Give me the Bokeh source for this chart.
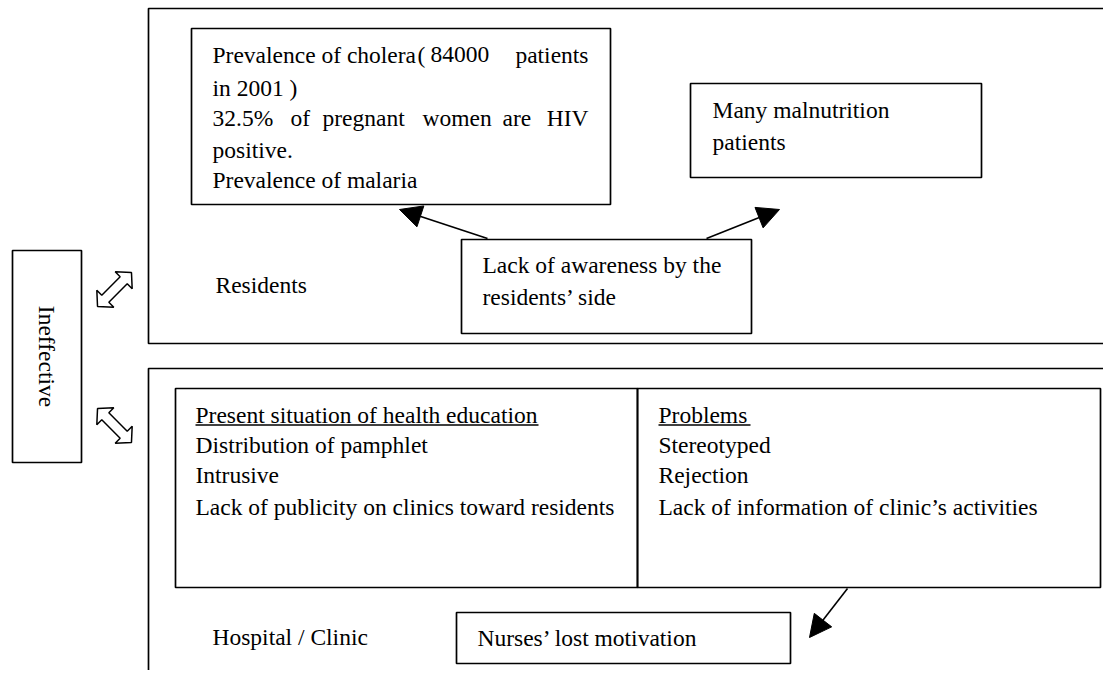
import math
from bokeh.plotting import figure
from bokeh.models import Range1d, Arrow, NormalHead
from bokeh.core.properties import value
from bokeh.embed import file_html
from bokeh.resources import INLINE

FONT = value("Liberation Serif")
FS = "23.5px"

# ---- content ----
residents_label = "Residents"
hospital_label = "Hospital / Clinic"
ineffective_label = "Ineffective"
disease_line1 = ["Prevalence of cholera", "(", "84000", "patients"]
disease_line2 = "in 2001 )"
disease_line3 = ["32.5%", "of", "pregnant", "women", "are", "HIV"]
disease_line4 = "positive."
disease_line5 = "Prevalence of malaria"
malnutrition_lines = ["Many malnutrition", "patients"]
awareness_lines = ["Lack of awareness by the", "residents’ side"]
situation_title = "Present situation of health education"
situation_items = ["Distribution of pamphlet", "Intrusive", "Lack of publicity on clinics toward residents"]
problems_title = "Problems"
problems_items = ["Stereotyped", "Rejection", "Lack of information of clinic’s activities"]
nurses_label = "Nurses’ lost motivation"

# ---- layout (screen pixel coordinates, y downward) ----
box_left   = [148, 191, 690, 461, 148, 175, 637, 456, 12]
box_top    = [8,   28,  83,  239, 368, 388, 388, 612, 250]
box_right  = [1130, 610, 981, 751, 1130, 637, 1100, 790, 81]
box_bottom = [343, 204, 177, 333, 700, 587, 587, 663, 462]

W, H = 1103, 670
p = figure(width=W, height=H, x_range=Range1d(0, W), y_range=Range1d(H, 0),
           output_backend="svg", toolbar_location=None, x_axis_type=None, y_axis_type=None,
           min_border=0, min_border_left=0, min_border_right=0, min_border_top=0, min_border_bottom=0)
p.grid.visible = False
p.outline_line_color = None
p.background_fill_color = "white"
p.border_fill_color = "white"

p.quad(left=box_left, right=box_right, top=box_top, bottom=box_bottom,
       fill_color=None, line_color="black", line_width=1.7)

def txt(x, y, s, align="left", angle=0.0, baseline="alphabetic"):
    p.text(x=[x], y=[y], text=[s], text_font=FONT, text_font_size=FS, text_color="black",
           text_align=align, text_baseline=baseline, angle=angle)

DY = -1  # rendered visual centre sits ~1px below the given y
# disease box
txt(212, 55 + DY, disease_line1[0])
txt(417, 55 + DY, disease_line1[1])
txt(430, 55 + DY, disease_line1[2])
txt(588, 55 + DY, disease_line1[3], align="right")
txt(212, 88 + DY, disease_line2)
line3_x = [212, 290, 322, 422, 502, 588]
for i, w in enumerate(disease_line3):
    txt(line3_x[i], 118 + DY, w, align="right" if i == len(disease_line3) - 1 else "left")
txt(212, 150 + DY, disease_line4)
txt(212, 180 + DY, disease_line5)

# malnutrition
for i, s in enumerate(malnutrition_lines):
    txt(712, 110 + 32 * i + DY, s)
# awareness
for i, s in enumerate(awareness_lines):
    txt(482, 265 + 32 * i + DY, s)
txt(215, 285 + DY, residents_label)

# lower panel
row_y = [415, 445, 475, 507]
txt(195, row_y[0] + DY, situation_title)
for i, s in enumerate(situation_items):
    txt(195, row_y[i + 1] + DY, s)
txt(658, row_y[0] + DY, problems_title)
for i, s in enumerate(problems_items):
    txt(658, row_y[i + 1] + DY, s)
p.segment(x0=[195, 658], y0=[424.5, 424.5], x1=[538, 750], y1=[424.5, 424.5],
          line_color="black", line_width=1.5)
txt(212, 637 + DY, hospital_label)
txt(477, 638 + DY, nurses_label)

# ineffective rotated
txt(46, 356, ineffective_label, align="center", angle=-math.pi / 2, baseline="middle")

# solid arrows
arrow_start = [(487, 238), (706, 238), (847, 588)]
arrow_end = [(399, 209), (779, 209), (809, 637)]
for (xs, ys), (xe, ye) in zip(arrow_start, arrow_end):
    p.add_layout(Arrow(end=NormalHead(size=22, fill_color="black", line_color="black", line_width=1),
                       x_start=xs, y_start=ys, x_end=xe, y_end=ye,
                       line_color="black", line_width=1.6))

# outlined double arrows
def double_arrow(cx, cy, theta_deg, half_len=24, head_len=11, head_hw=12, shaft_hw=5):
    pts = [(-half_len, 0), (-half_len + head_len, head_hw), (-half_len + head_len, shaft_hw),
           (half_len - head_len, shaft_hw), (half_len - head_len, head_hw), (half_len, 0),
           (half_len - head_len, -head_hw), (half_len - head_len, -shaft_hw),
           (-half_len + head_len, -shaft_hw), (-half_len + head_len, -head_hw)]
    t = math.radians(theta_deg)
    xs = [cx + u * math.cos(t) - v * math.sin(t) for u, v in pts]
    ys = [cy + u * math.sin(t) + v * math.cos(t) for u, v in pts]
    return xs, ys

da_centers = [(114, 289, -45), (114, 425, 45)]
pxs, pys = [], []
for cx, cy, th in da_centers:
    a, b = double_arrow(cx, cy, th)
    pxs.append(a); pys.append(b)
p.patches(xs=pxs, ys=pys, fill_color="white", line_color="black", line_width=1.5)

open("out.html", "w").write(file_html(p, INLINE))
